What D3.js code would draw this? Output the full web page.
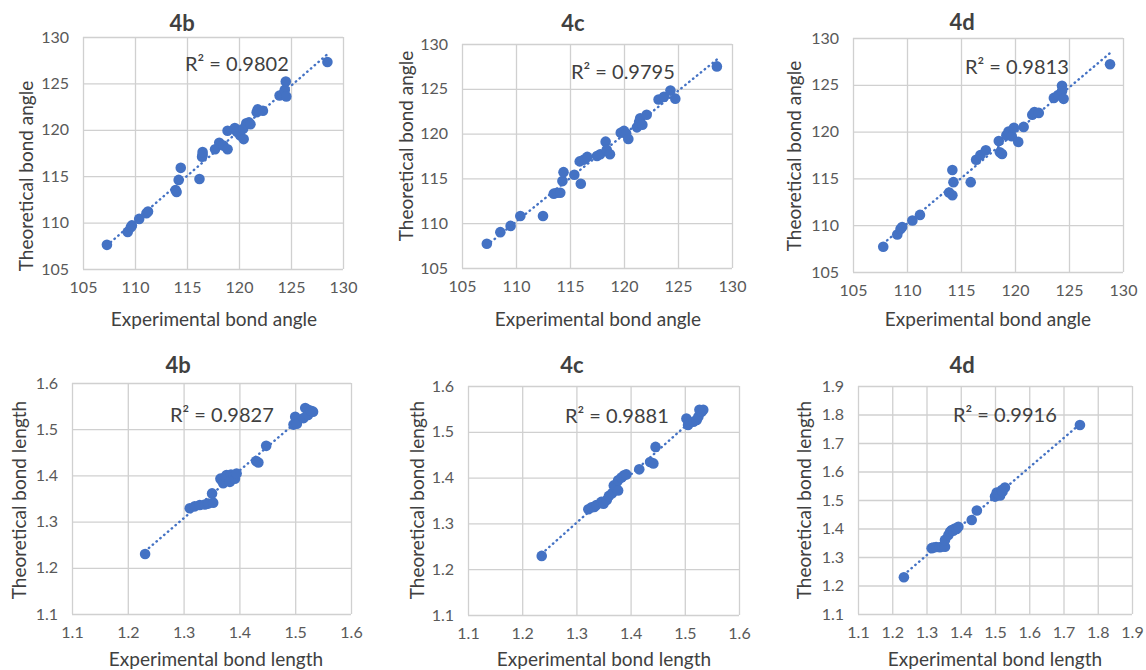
<!DOCTYPE html>
<html>
<head>
<meta charset="utf-8">
<script src="https://cdn.jsdelivr.net/npm/d3@7/dist/d3.min.js"></script>
<style>
  body { margin: 0; background: #fff; }
  svg text { font-family: Lato, "Open Sans", sans-serif; }
</style>
</head>
<body>
<div id="chart"></div>
<script>
// Data__________________________________________________________________
const angleTicks = [105, 110, 115, 120, 125, 130];
const lengthTicks = [1.1, 1.2, 1.3, 1.4, 1.5, 1.6];
const lengthTicks4d = [1.1, 1.2, 1.3, 1.4, 1.5, 1.6, 1.7, 1.8, 1.9];

const panelTitles = ['4b', '4c', '4d', '4b', '4c', '4d'];
const r2Values = ['0.9802', '0.9795', '0.9813', '0.9827', '0.9881', '0.9916'];

const angle4b = [
  [107.3, 107.6], [109.3, 109.0], [109.6, 109.5], [109.7, 109.7], [110.4, 110.4],
  [111.1, 111.0], [111.25, 111.2], [113.9, 113.5], [114.0, 113.3], [114.2, 114.6],
  [114.4, 115.9], [116.2, 114.7], [116.45, 117.1], [116.5, 117.3], [116.5, 117.6],
  [117.7, 117.9], [118.1, 118.6], [118.5, 118.3], [118.9, 117.9], [118.9, 119.9],
  [119.6, 120.2], [119.8, 119.8], [120.1, 119.4], [120.45, 119.0], [120.4, 120.1],
  [120.7, 120.7], [120.96, 120.8], [121.1, 120.6], [121.7, 121.9], [121.8, 122.2],
  [122.3, 122.05], [123.9, 123.7], [124.2, 123.8], [124.4, 124.3], [124.5, 125.2],
  [124.55, 123.6], [128.5, 127.3]
];
const angle4c = [
  [107.3, 107.7], [108.55, 109.0], [109.5, 109.7], [110.4, 110.8], [112.5, 110.8],
  [113.5, 113.3], [113.8, 113.4], [114.1, 113.4], [114.3, 114.7], [114.4, 115.7],
  [115.4, 115.4], [116.0, 114.4], [115.9, 116.9], [116.3, 117.1], [116.6, 117.4],
  [117.5, 117.5], [117.8, 117.7], [118.3, 119.1], [118.4, 118.2], [118.7, 117.7],
  [119.7, 120.1], [120.0, 120.3], [120.2, 120.0], [120.4, 119.4], [121.2, 120.7],
  [121.4, 121.3], [121.5, 121.7], [121.7, 121.0], [122.1, 122.1], [123.2, 123.8],
  [123.7, 124.1], [124.3, 124.8], [124.75, 123.9], [128.6, 127.5]
];
const angle4d = [
  [107.8, 107.7], [109.1, 109.0], [109.4, 109.6], [109.55, 109.8], [110.5, 110.5],
  [111.2, 111.1], [113.9, 113.5], [114.2, 113.2], [114.3, 114.6], [114.2, 115.9],
  [115.9, 114.6], [116.4, 117.0], [116.8, 117.5], [117.3, 118.0], [118.5, 119.0],
  [118.6, 117.8], [118.8, 117.6], [119.2, 119.6], [119.4, 120.0], [119.7, 119.5],
  [119.9, 120.4], [120.3, 118.9], [120.8, 120.5], [121.6, 121.8], [121.8, 122.1],
  [122.2, 122.0], [123.6, 123.6], [124.0, 123.9], [124.35, 124.9], [124.35, 124.3],
  [124.5, 123.5], [128.8, 127.2]
];
const length4b = [
  [1.231, 1.230], [1.311, 1.329], [1.320, 1.333], [1.329, 1.336], [1.338, 1.337],
  [1.344, 1.339], [1.353, 1.341], [1.351, 1.361], [1.366, 1.393], [1.368, 1.390],
  [1.371, 1.383], [1.375, 1.397], [1.377, 1.401], [1.383, 1.386], [1.385, 1.402],
  [1.389, 1.397], [1.392, 1.393], [1.395, 1.404], [1.430, 1.431], [1.434, 1.428],
  [1.448, 1.464], [1.497, 1.510], [1.500, 1.527], [1.503, 1.512], [1.515, 1.524],
  [1.518, 1.546], [1.523, 1.542], [1.523, 1.531], [1.528, 1.540], [1.532, 1.538]
];
const length4c = [
  [1.236, 1.229], [1.322, 1.331], [1.328, 1.335], [1.333, 1.336], [1.337, 1.340],
  [1.346, 1.347], [1.350, 1.343], [1.356, 1.351], [1.360, 1.360], [1.366, 1.366],
  [1.369, 1.383], [1.373, 1.378], [1.377, 1.372], [1.377, 1.394], [1.383, 1.400],
  [1.388, 1.405], [1.392, 1.407], [1.416, 1.418], [1.436, 1.434], [1.442, 1.431],
  [1.446, 1.467], [1.503, 1.529], [1.506, 1.515], [1.516, 1.522], [1.522, 1.526],
  [1.525, 1.533], [1.527, 1.548], [1.531, 1.544], [1.534, 1.548]
];
const length4d = [
  [1.234, 1.229], [1.315, 1.331], [1.320, 1.333], [1.328, 1.335], [1.339, 1.334],
  [1.346, 1.337], [1.354, 1.336], [1.354, 1.360], [1.364, 1.377], [1.369, 1.389],
  [1.374, 1.395], [1.378, 1.392], [1.383, 1.400], [1.388, 1.398], [1.393, 1.406],
  [1.432, 1.430], [1.447, 1.463], [1.500, 1.512], [1.505, 1.526], [1.510, 1.518],
  [1.515, 1.516], [1.520, 1.535], [1.522, 1.530], [1.529, 1.544], [1.748, 1.763]
];

// Layout________________________________________________________________
const width = 1146;
const height = 670;
const blue = '#4472c4';
const gridColor = '#d0d0d0';

const panels = [
  { data: angle4b, ticks: angleTicks, fmt: d3.format('d'), box: [83, 37, 343, 269],
    titleX: 182, titleY: 31, yLab: [27, 176], xLab: [214, 326], r2: [185, 71], xt: 'Experimental bond angle', yt: 'Theoretical bond angle' },
  { data: angle4c, ticks: angleTicks, fmt: d3.format('d'), box: [462, 44, 732, 268],
    titleX: 573, titleY: 31, yLab: [407, 146], xLab: [598, 326], r2: [571, 79], xt: 'Experimental bond angle', yt: 'Theoretical bond angle' },
  { data: angle4d, ticks: angleTicks, fmt: d3.format('d'), box: [853, 38, 1123, 272],
    titleX: 962, titleY: 30, yLab: [795, 156], xLab: [988, 326], r2: [965, 74], xt: 'Experimental bond angle', yt: 'Theoretical bond angle' },
  { data: length4b, ticks: lengthTicks, fmt: d3.format('.1f'), box: [72, 383, 351, 614],
    titleX: 178, titleY: 373, yLab: [20, 500], xLab: [216, 666], r2: [170, 422], xt: 'Experimental bond length', yt: 'Theoretical bond length' },
  { data: length4c, ticks: lengthTicks, fmt: d3.format('.1f'), box: [468, 386, 739, 615],
    titleX: 572, titleY: 373, yLab: [418, 500], xLab: [604, 666], r2: [565, 423], xt: 'Experimental bond length', yt: 'Theoretical bond length' },
  { data: length4d, ticks: lengthTicks4d, fmt: d3.format('.1f'), box: [858, 386, 1132, 614],
    titleX: 962, titleY: 373, yLab: [805, 500], xLab: [995, 666], r2: [953, 422], xt: 'Experimental bond length', yt: 'Theoretical bond length' }
];

const svg = d3.select('#chart')
  .append('svg')
  .attr('width', width)
  .attr('height', height);

// Least squares line, same as the Excel linear trendline
function fitLine(data) {
  const mx = d3.mean(data, d => d[0]);
  const my = d3.mean(data, d => d[1]);
  const sxy = d3.sum(data, d => (d[0] - mx) * (d[1] - my));
  const sxx = d3.sum(data, d => (d[0] - mx) * (d[0] - mx));
  const slope = sxy / sxx;
  return x => my + slope * (x - mx);
}

// Panels________________________________________________________________
panels.forEach((p, i) => {
  const [x0, y0, x1, y1] = p.box;
  const dom = d3.extent(p.ticks);
  const x = d3.scaleLinear().domain(dom).range([x0, x1]);
  const y = d3.scaleLinear().domain(dom).range([y1, y0]);
  const g = svg.append('g');

  // grid via axes
  g.append('g')
    .attr('transform', `translate(0,${y1})`)
    .call(d3.axisBottom(x).tickValues(p.ticks).tickSize(-(y1 - y0)).tickFormat(p.fmt).tickPadding(13))
    .call(a => a.select('.domain').remove())
    .call(a => a.selectAll('line').attr('stroke', gridColor).attr('stroke-width', 1.3))
    .call(a => a.selectAll('text').attr('fill', '#595959').style('font-size', '16px'));

  g.append('g')
    .attr('transform', `translate(${x0},0)`)
    .call(d3.axisLeft(y).tickValues(p.ticks).tickSize(-(x1 - x0)).tickFormat(p.fmt).tickPadding(14))
    .call(a => a.select('.domain').remove())
    .call(a => a.selectAll('line').attr('stroke', gridColor).attr('stroke-width', 1.3))
    .call(a => a.selectAll('text').attr('fill', '#595959').style('font-size', '16px'));

  // trendline
  const f = fitLine(p.data);
  const ext = d3.extent(p.data, d => d[0]);
  g.append('line')
    .attr('x1', x(ext[0])).attr('y1', y(f(ext[0])))
    .attr('x2', x(ext[1])).attr('y2', y(f(ext[1])))
    .attr('stroke', blue)
    .attr('stroke-width', 2.4)
    .attr('stroke-linecap', 'round')
    .attr('stroke-dasharray', '0.5,4.5');

  // points
  g.append('g')
    .selectAll('circle')
    .data(p.data)
    .enter()
    .append('circle')
    .attr('cx', d => x(d[0]))
    .attr('cy', d => y(d[1]))
    .attr('r', 5.3)
    .attr('fill', blue);

  // R² label
  g.append('text')
    .attr('x', p.r2[0]).attr('y', p.r2[1])
    .attr('fill', '#404040')
    .style('font-size', '20px')
    .text(`R² = ${r2Values[i]}`);

  // titles
  g.append('text')
    .attr('x', p.titleX).attr('y', p.titleY)
    .attr('text-anchor', 'middle')
    .attr('fill', '#404040')
    .style('font-size', '22px')
    .style('font-weight', 'bold')
    .text(panelTitles[i]);

  g.append('text')
    .attr('x', p.xLab[0]).attr('y', p.xLab[1])
    .attr('text-anchor', 'middle')
    .attr('fill', '#404040')
    .style('font-size', '19px')
    .text(p.xt);

  g.append('text')
    .attr('transform', `translate(${p.yLab[0] + 6},${p.yLab[1]}) rotate(-90)`)
    .attr('text-anchor', 'middle')
    .attr('fill', '#404040')
    .style('font-size', '19px')
    .text(p.yt);
});
</script>
</body>
</html>
